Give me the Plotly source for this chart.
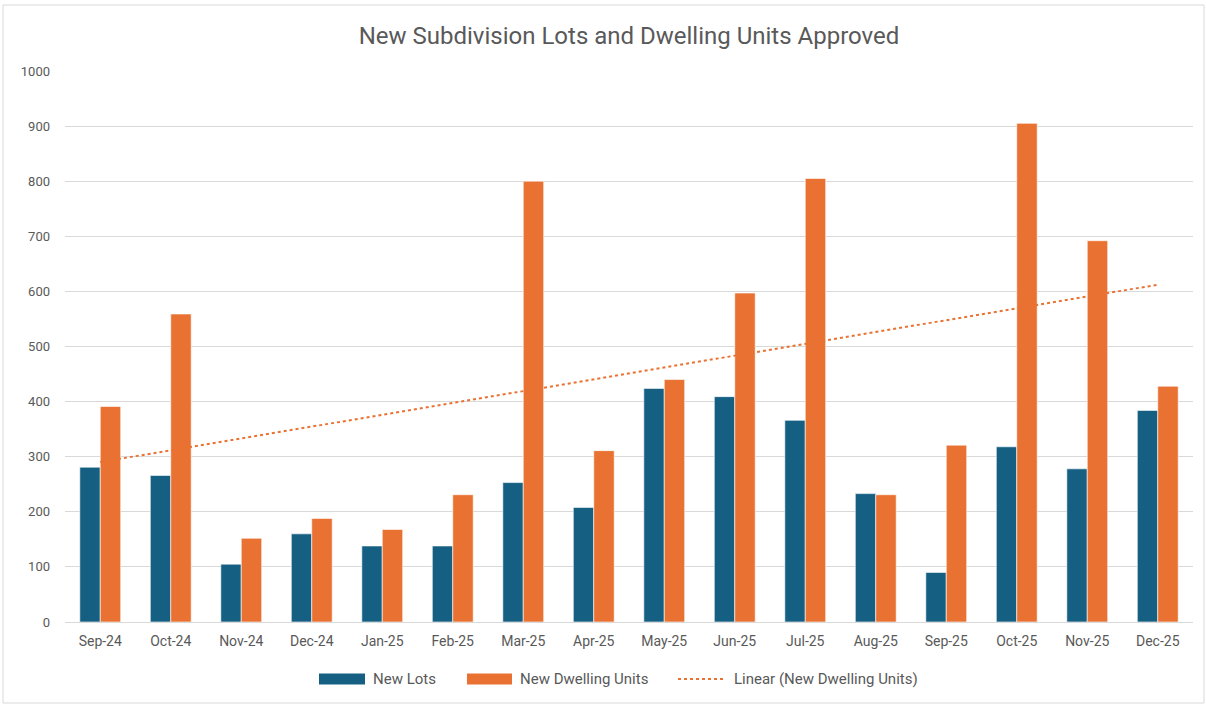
import numpy as np
import plotly.graph_objects as go

months = ["Sep-24", "Oct-24", "Nov-24", "Dec-24", "Jan-25", "Feb-25", "Mar-25", "Apr-25",
          "May-25", "Jun-25", "Jul-25", "Aug-25", "Sep-25", "Oct-25", "Nov-25", "Dec-25"]
new_lots = [281, 266, 105, 160, 138, 138, 253, 208, 424, 409, 366, 233, 90, 318, 278, 384]
new_dwellings = [391, 559, 152, 188, 168, 231, 800, 311, 440, 597, 805, 231, 321, 905, 692, 428]
y_ticks = [0, 100, 200, 300, 400, 500, 600, 700, 800, 900, 1000]

# Excel-style linear trendline fitted on the dwelling units series
idx = np.arange(len(months))
slope, intercept = np.polyfit(idx, new_dwellings, 1)
trend = slope * idx + intercept

BLUE = "#156082"
ORANGE = "#E97132"
GREY_TXT = "#595959"
FONT = "Roboto, Lato, sans-serif"

W, H = 1206, 704
L, R, T, B = 65, 13, 71, 82
PW, PH = W - L - R, H - T - B


def px(x):
    return (x - L) / PW


def py(y):
    return (H - B - y) / PH


fig = go.Figure()
fig.add_trace(go.Bar(x=months, y=new_lots, name="New Lots",
                     marker=dict(color=BLUE, line=dict(color="rgba(255,255,255,0.6)", width=1))))
fig.add_trace(go.Bar(x=months, y=new_dwellings, name="New Dwelling Units",
                     marker=dict(color=ORANGE, line=dict(color="rgba(255,255,255,0.6)", width=1))))
fig.add_trace(go.Scatter(x=months, y=trend, name="Linear (New Dwelling Units)", mode="lines",
                         line=dict(color=ORANGE, width=2, dash="dot"), hoverinfo="skip"))

fig.update_layout(
    width=W, height=H,
    margin=dict(l=L, r=R, t=T, b=B, autoexpand=False),
    paper_bgcolor="white", plot_bgcolor="white",
    barmode="group", bargap=0.42, bargroupgap=0,
    title=dict(text="New Subdivision Lots and Dwelling Units Approved",
               x=0.5, xref="paper", xanchor="center", y=0.949, yanchor="middle",
               font=dict(family=FONT, size=24, color=GREY_TXT)),
    font=dict(family=FONT, color=GREY_TXT, size=14),
    showlegend=False,
)
fig.update_xaxes(type="category", showgrid=False, showline=True, linecolor="#D9D9D9", linewidth=1,
                 ticks="", ticklabelstandoff=6, tickfont=dict(size=14, color=GREY_TXT), fixedrange=True)
fig.update_yaxes(range=[0, 1000], tickvals=y_ticks, showgrid=True, gridcolor="#D9D9D9", gridwidth=1,
                 zeroline=False, showline=False, ticks="", ticklabelstandoff=14,
                 tickfont=dict(size=13, color=GREY_TXT), fixedrange=True)

shapes = []
# chart-area border
shapes.append(dict(type="rect", xref="paper", yref="paper",
                   x0=px(3), x1=px(1204), y0=py(703), y1=py(5),
                   line=dict(color="#D9D9D9", width=1), fillcolor="rgba(0,0,0,0)", layer="below"))
# custom legend (Excel style wide swatches)
ly = 679
shapes.append(dict(type="rect", xref="paper", yref="paper", x0=px(319), x1=px(365),
                   y0=py(ly + 5.5), y1=py(ly - 5.5), line=dict(width=0), fillcolor=BLUE))
shapes.append(dict(type="rect", xref="paper", yref="paper", x0=px(467), x1=px(512),
                   y0=py(ly + 5.5), y1=py(ly - 5.5), line=dict(width=0), fillcolor=ORANGE))
shapes.append(dict(type="line", xref="paper", yref="paper", x0=px(678), x1=px(724),
                   y0=py(ly), y1=py(ly), line=dict(color=ORANGE, width=2, dash="dot")))
fig.update_layout(shapes=shapes)

legend_labels = [("New Lots", 371), ("New Dwelling Units", 518), ("Linear (New Dwelling Units)", 732)]
for text, xpos in legend_labels:
    fig.add_annotation(text=text, xref="paper", yref="paper", x=px(xpos), y=py(ly),
                       xanchor="left", yanchor="middle", showarrow=False,
                       font=dict(family=FONT, size=15, color=GREY_TXT))

fig.write_html("out.html")
